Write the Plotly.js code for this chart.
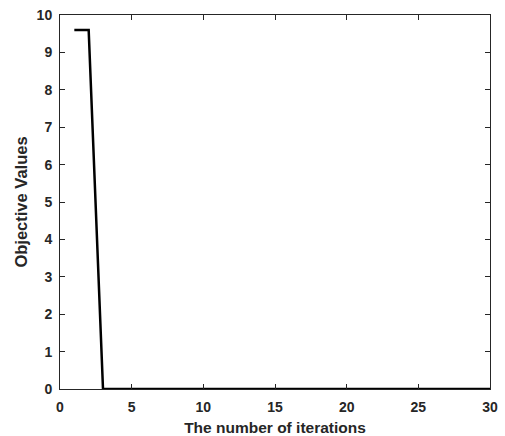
<!DOCTYPE html>
<html><head><meta charset="utf-8">
<script src="https://cdn.plot.ly/plotly-3.0.1.min.js"></script>
<style>html,body{margin:0;padding:0;background:#fff}#plot{width:505px;height:436px}</style>
</head><body><div id="plot"></div>
<script>
const iterations = [1,2,3,4,5,6,7,8,9,10,11,12,13,14,15,16,17,18,19,20,21,22,23,24,25,26,27,28,29,30];
const objectiveValues = [9.6,9.6,0,0,0,0,0,0,0,0,0,0,0,0,0,0,0,0,0,0,0,0,0,0,0,0,0,0,0,0];
const xTicks = [0,5,10,15,20,25,30];
const yTicks = [0,1,2,3,4,5,6,7,8,9,10];

const fam = 'Liberation Sans, Arial, sans-serif';
const axisCommon = {
  showgrid:false, zeroline:false, showline:true, linecolor:'#262626', linewidth:1,
  mirror:'ticks', ticks:'inside', ticklen:5, tickcolor:'#262626', tickwidth:1,
  tickfont:{family:fam, size:14, color:'#262626', weight:700}
};
Plotly.newPlot('plot', [{
  x: iterations, y: objectiveValues, type:'scatter', mode:'lines',
  line:{color:'#000', width:2.5}, hoverinfo:'skip'
}], {
  width:505, height:436,
  margin:{l:59.5, r:15, t:15, b:47},
  paper_bgcolor:'#fff', plot_bgcolor:'#fff', showlegend:false,
  xaxis: Object.assign({}, axisCommon, {range:[0,30], tickvals:xTicks, ticklabelstandoff:5,
    title:{text:'The number of iterations', font:{family:fam, size:15.5, color:'#262626', weight:700}, standoff:8}}),
  yaxis: Object.assign({}, axisCommon, {range:[0,10], tickvals:yTicks, ticklabelstandoff:4,
    title:{text:'Objective Values', font:{family:fam, size:16.5, color:'#262626', weight:700}, standoff:4}})
}, {staticPlot:true});
</script></body></html>
